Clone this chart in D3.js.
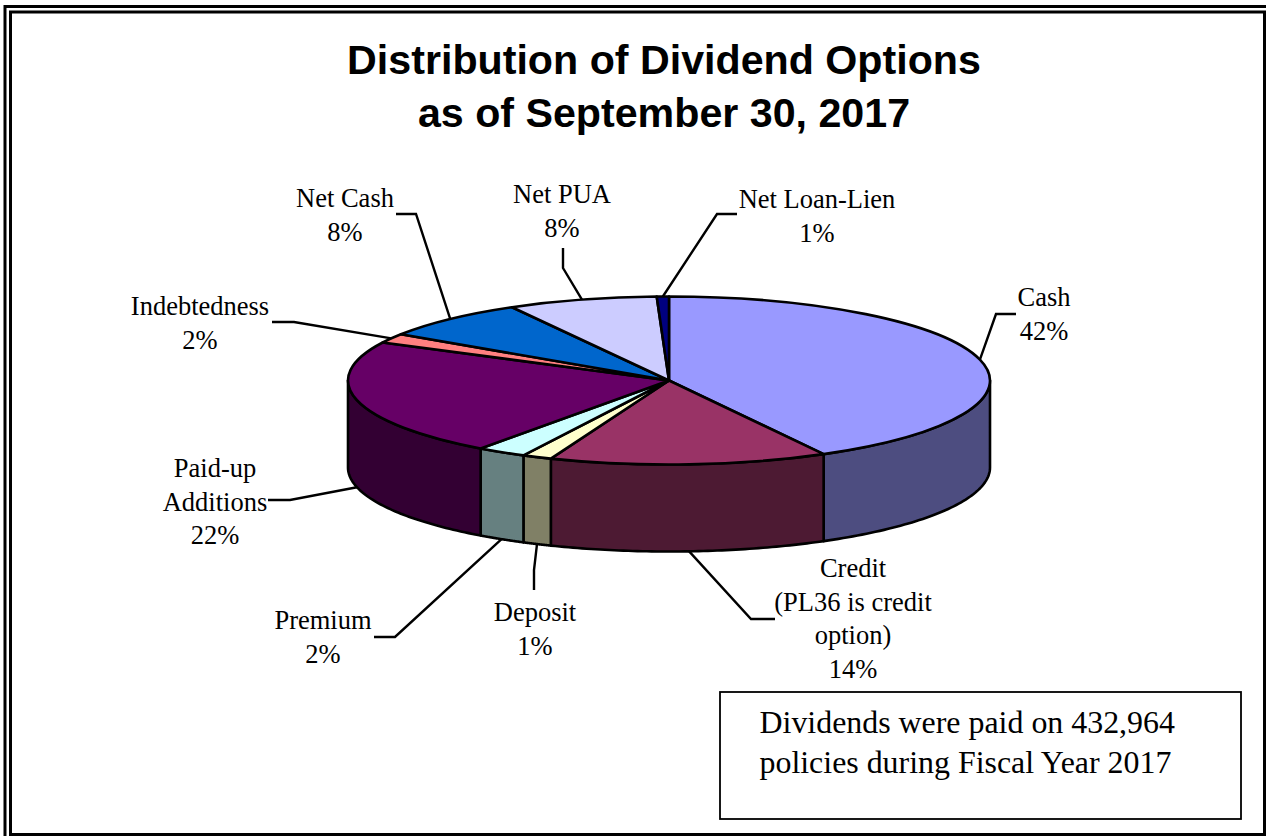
<!DOCTYPE html>
<html>
<head>
<meta charset="utf-8">
<script src="https://cdn.jsdelivr.net/npm/d3@7"></script>
<style>
html,body{margin:0;padding:0;background:#fff;overflow:hidden}
svg{display:block}
.title{font-family:"Liberation Sans",Arial,sans-serif;font-weight:700;font-size:41.2px;text-anchor:middle}
.label{font-family:"Liberation Serif","Times New Roman",serif;font-size:26.5px;text-anchor:middle}
.note{font-family:"Liberation Serif","Times New Roman",serif;font-size:31.9px}
</style>
</head>
<body>
<script>
// Dividend option shares, in percent of policies
const categories = ["Cash","Credit\n(PL36 is credit\noption)","Deposit","Premium","Paid-up\nAdditions","Indebtedness","Net Cash","Net PUA","Net Loan-Lien"];
const shares = [42.0,14.0,1.49,2.49,22.49,1.8,7.6,7.52,0.61];
const topColors = ["#9999FF","#993366","#FFFFCC","#CCFFFF","#660066","#FF8080","#0066CC","#CCCCFF","#000080"];
const sideColors = ["#4D4D80","#4D1A33","#808066","#668080","#330033","#804040","#003366","#666680","#000040"];
const titleLines = ["Distribution of Dividend Options","as of September 30, 2017"];
const noteLines = ["Dividends were paid on 432,964","policies during Fiscal Year 2017"];

// Layout of the tilted disc
const W = 1266, H = 836;
const cx = 669, cy = 380.5, rx = 321, ry = 84, depth = 87;

// Leader elbows and label anchors, slice by slice
const leaderRoutes = [
  {elbow:[[996,314],[1016,314]], label:[1044,306], onWall:false},
  {elbow:[[751,619],[775,619]], label:[853,577], onWall:true},
  {elbow:[[534,570],[534,590]], label:[535,621], onWall:true},
  {elbow:[[395,637],[374,637]], label:[323,629], onWall:true},
  {elbow:[[290,500],[268,500]], label:[215,477], onWall:true},
  {elbow:[[294,322],[272,322]], label:[200,315], onWall:false},
  {elbow:[[416,214],[396,214]], label:[345,207], onWall:false},
  {elbow:[[563,268],[563,248]], label:[562,203], onWall:false},
  {elbow:[[717,214],[737,214]], label:[817,208], onWall:false}
];

const svg = d3.select("body").append("svg").attr("width",W).attr("height",H);
svg.append("rect").attr("width",W).attr("height",H).attr("fill","#fff");

// Double page frame
svg.append("rect").attr("x",5).attr("y",6.5).attr("width",1280).attr("height",850)
  .attr("fill","none").attr("stroke","#000").attr("stroke-width",3);
svg.append("rect").attr("x",10.5).attr("y",12).attr("width",1254).attr("height",822.5)
  .attr("fill","none").attr("stroke","#000").attr("stroke-width",3);

svg.selectAll("text.title").data(titleLines).join("text").attr("class","title")
  .attr("x",664).attr("y",(d,i)=>74+i*52.5).text(d=>d);

const pie = d3.pie().sort(null).value(d=>d)(shares);
const arc = d3.arc().innerRadius(0).outerRadius(rx);
const total = d3.sum(shares);
const pct = d3.format(".0%");

const edgeX = a => cx + rx*Math.sin(a);
const edgeY = a => cy - ry*Math.cos(a);
const outline = d3.line();

// Side wall: visible only on the front half of the disc
function wallPath(p){
  const a0 = Math.max(p.startAngle, Math.PI/2), a1 = Math.min(p.endAngle, 3*Math.PI/2);
  if (a1 <= a0) return null;
  const steps = d3.range(0,61).map(i => a0 + (a1-a0)*i/60);
  const top = steps.map(a => [edgeX(a), edgeY(a)]);
  const bottom = steps.slice().reverse().map(a => [edgeX(a), edgeY(a)+depth]);
  return outline(top.concat(bottom)) + "Z";
}

svg.append("g").selectAll("path").data(pie).join("path")
  .attr("d",wallPath).attr("fill",(d,i)=>sideColors[i])
  .attr("stroke","#000").attr("stroke-width",2.6).attr("stroke-linejoin","round");

// Top face: a flat pie squashed into an ellipse
svg.append("g").attr("transform",`translate(${cx},${cy}) scale(1,${ry/rx})`)
  .selectAll("path").data(pie).join("path")
  .attr("d",arc).attr("fill",(d,i)=>topColors[i])
  .attr("stroke","#000").attr("stroke-width",2.6).attr("stroke-linejoin","round")
  .attr("vector-effect","non-scaling-stroke");

// Leader lines start at the middle of each slice's rim
svg.append("g").selectAll("path").data(pie).join("path")
  .attr("d",(d,i)=>{
    const mid = (d.startAngle+d.endAngle)/2, r = leaderRoutes[i];
    const start = [edgeX(mid), edgeY(mid)+(r.onWall?depth:0)];
    return outline([start].concat(r.elbow));
  })
  .attr("fill","none").attr("stroke","#000").attr("stroke-width",2.4);

// Slice labels: name lines, then the share
const lbl = svg.append("g").selectAll("text").data(pie).join("text").attr("class","label")
  .attr("transform",(d,i)=>`translate(${leaderRoutes[i].label[0]},${leaderRoutes[i].label[1]})`);
lbl.each(function(d,i){
  const lines = categories[i].split("\n").concat(pct(d.value/total));
  d3.select(this).selectAll("tspan").data(lines).join("tspan")
    .attr("x",0).attr("y",(t,j)=>j*33.5).text(t=>t);
});

// Note box
svg.append("rect").attr("x",720).attr("y",692).attr("width",521).attr("height",127)
  .attr("fill","#fff").attr("stroke","#000").attr("stroke-width",1.8);
svg.selectAll("text.note").data(noteLines).join("text").attr("class","note")
  .attr("x",759.5).attr("y",(d,i)=>733+i*40).text(d=>d);
</script>
</body>
</html>
